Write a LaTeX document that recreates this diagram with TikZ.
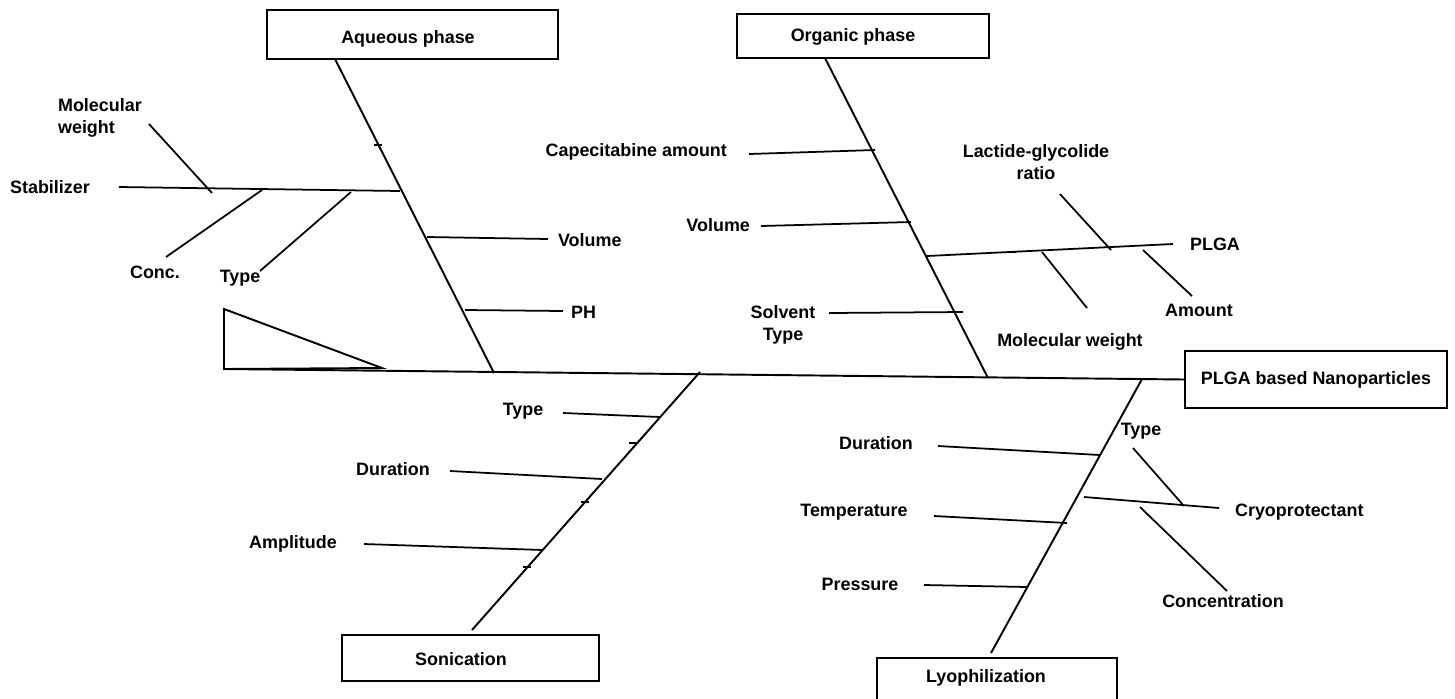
\documentclass[tikz,border=0pt]{standalone}
\usepackage{fontspec}
\setmainfont{Liberation Sans}
\usetikzlibrary{positioning,calc}

\tikzset{
  box/.style={draw, line width=1.1pt, inner sep=0pt},
  bone/.style={line width=1.1pt},
  twig/.style={line width=1pt},
  lbl/.style={font=\fontsize{10.2}{12.5}\selectfont\bfseries, inner sep=1pt},
}

\begin{document}
\begin{tikzpicture}[x=0.02cm, y=-0.02cm]
\useasboundingbox (0,0) rectangle (1455,698);

% head and tail
\node[box, lbl, minimum width=5.24cm, minimum height=1.14cm] (plga) at (1316,379.5) {PLGA based Nanoparticles};
\coordinate (tail) at (224,369);
\coordinate (tip) at (382,368);
\draw[bone] (224,309) -- (tip) -- (tail) -- cycle;
\draw[bone] (tail) -- (plga.west);

% cause boxes
\node[box, minimum width=5.82cm, minimum height=0.98cm] (aqbox) at (412.5,34.5) {};
\node[lbl] (aq) at (408,39) {Aqueous phase};
\node[box, minimum width=5.04cm, minimum height=0.88cm] (orbox) at (863,36) {};
\node[lbl] (or) at (853,37) {Organic phase};
\node[box, minimum width=5.14cm, minimum height=0.92cm] (sobox) at (470.5,658) {};
\node[lbl] (so) at (461,659) {Sonication};
\node[box, minimum width=4.8cm, minimum height=1.0cm] (lybox) at (997,683) {};
\node[lbl] (ly) at (986,678) {Lyophilization};

% main bones
\coordinate (aqtop) at (335,59);   \coordinate (aqfoot) at (494,373);
\coordinate (ortop) at (825,58);   \coordinate (orfoot) at (988,378);
\coordinate (sotop) at (700,372);  \coordinate (sofoot) at (472,630);
\coordinate (lytop) at (1142,379); \coordinate (lyfoot) at (991,653);
\draw[bone] (aqtop) -- (aqfoot);
\draw[bone] (ortop) -- (orfoot);
\draw[bone] (sotop) -- (sofoot);
\draw[bone] (lytop) -- (lyfoot);

% Aqueous phase
\node[lbl] (stab) at (50,187) {Stabilizer};
\node[lbl, align=left, anchor=west] (mwa) at (56,118) {Molecular\\weight};
\node[lbl] (conc) at (155,272) {Conc.};
\node[lbl] (typa) at (240,278) {Type};
\node[lbl, anchor=west] (vola) at (556,240) {Volume};
\node[lbl, anchor=west] (ph) at (569,312) {PH};
\coordinate (stab1) at (119,187);  \coordinate (stab2) at (400,191);
\coordinate (mwa1) at (149,124);   \coordinate (mwa2) at (212,193);
\coordinate (conc1) at (166,257);  \coordinate (conc2) at (262,190);
\coordinate (typa1) at (260,271);  \coordinate (typa2) at (351,192);
\coordinate (vola1) at (427,237);  \coordinate (vola2) at (548,239);
\coordinate (ph1) at (465,310);    \coordinate (ph2) at (563,311);
\draw[twig] (stab1) -- (stab2);
\draw[twig] (mwa1) -- (mwa2);
\draw[twig] (conc1) -- (conc2);
\draw[twig] (typa1) -- (typa2);
\draw[twig] (vola1) -- (vola2);
\draw[twig] (ph1) -- (ph2);

% Organic phase
\node[lbl, anchor=east] (cap) at (729,152) {Capecitabine amount};
\node[lbl, anchor=east] (volo) at (752,225) {Volume};
\node[lbl, align=center] (solv) at (783,325) {Solvent\\Type};
\node[lbl, anchor=west] (plgab) at (1188,244) {PLGA};
\node[lbl, align=center] (lgr) at (1036,162) {Lactide-glycolide\\ratio};
\node[lbl] (mwo) at (1070,342) {Molecular weight};
\node[lbl] (amt) at (1199,310) {Amount};
\coordinate (cap1) at (749,154);   \coordinate (cap2) at (875,150);
\coordinate (volo1) at (761,226);  \coordinate (volo2) at (911,222);
\coordinate (solv1) at (829,313);  \coordinate (solv2) at (963,312);
\coordinate (plg1) at (927,256);   \coordinate (plg2) at (1173,244);
\coordinate (lgr1) at (1060,194);  \coordinate (lgr2) at (1111,250);
\coordinate (mwo1) at (1042,252);  \coordinate (mwo2) at (1087,308);
\coordinate (amt1) at (1143,250);  \coordinate (amt2) at (1192,296);
\draw[twig] (cap1) -- (cap2);
\draw[twig] (volo1) -- (volo2);
\draw[twig] (solv1) -- (solv2);
\draw[twig] (plg1) -- (plg2);
\draw[twig] (lgr1) -- (lgr2);
\draw[twig] (mwo1) -- (mwo2);
\draw[twig] (amt1) -- (amt2);

% Sonication
\node[lbl] (typs) at (523,411) {Type};
\node[lbl] (durs) at (393,469) {Duration};
\node[lbl] (amp) at (293,544) {Amplitude};
\coordinate (typs1) at (563,413);  \coordinate (typs2) at (660,417);
\coordinate (durs1) at (450,471);  \coordinate (durs2) at (602,479);
\coordinate (amp1) at (364,544);   \coordinate (amp2) at (543,550);
\draw[twig] (typs1) -- (typs2);
\draw[twig] (durs1) -- (durs2);
\draw[twig] (amp1) -- (amp2);

% Lyophilization
\node[lbl] (durl) at (876,443) {Duration};
\node[lbl] (temp) at (854,512) {Temperature};
\node[lbl] (pres) at (860,584) {Pressure};
\node[lbl, anchor=west] (cryo) at (1233,512) {Cryoprotectant};
\node[lbl] (typl) at (1141,431) {Type};
\node[lbl] (concl) at (1223,601) {Concentration};
\coordinate (durl1) at (938,446);   \coordinate (durl2) at (1100,455);
\coordinate (temp1) at (934,516);   \coordinate (temp2) at (1067,523);
\coordinate (pres1) at (924,585);   \coordinate (pres2) at (1027,587);
\coordinate (cryo1) at (1084,497);  \coordinate (cryo2) at (1219,508);
\coordinate (typl1) at (1133,448);  \coordinate (typl2) at (1184,506);
\coordinate (concl1) at (1140,507); \coordinate (concl2) at (1227,591);
\draw[twig] (durl1) -- (durl2);
\draw[twig] (temp1) -- (temp2);
\draw[twig] (pres1) -- (pres2);
\draw[twig] (cryo1) -- (cryo2);
\draw[twig] (typl1) -- (typl2);
\draw[twig] (concl1) -- (concl2);

% small hand-drawn ticks
\foreach \tx/\ty in {378/145, 1012/252, 633/443, 585/502, 527/567}
  \draw[line width=0.9pt] (\tx-4,\ty) -- (\tx+4,\ty);
\end{tikzpicture}
\end{document}
